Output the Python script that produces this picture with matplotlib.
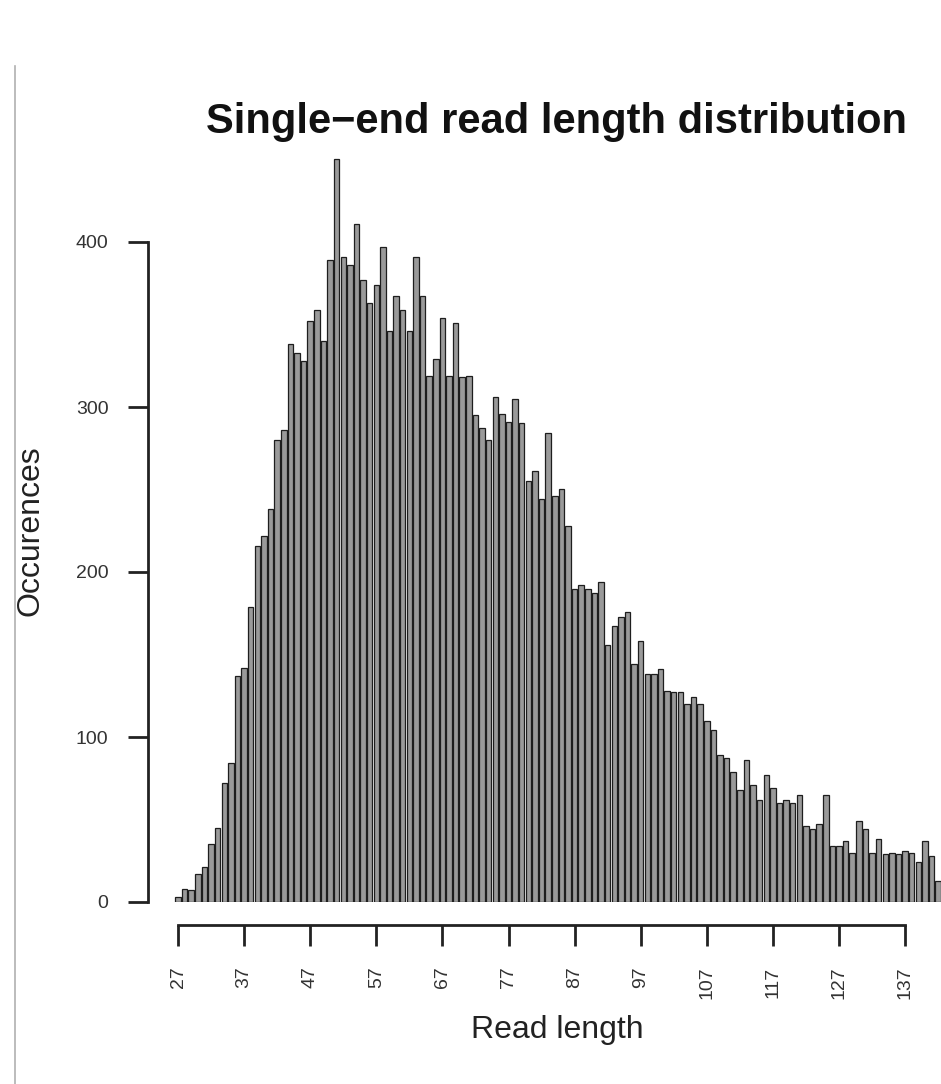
import matplotlib
matplotlib.use("Agg")
import matplotlib.pyplot as plt
from matplotlib.lines import Line2D

plt.rcParams['font.family'] = ['Liberation Sans', 'DejaVu Sans']

# Datos (longitud de lectura 27..142)
read_length = list(range(27, 143))
occurences = [
    3, 8, 7, 17, 21, 35, 45, 72, 84, 137,
    142, 179, 216, 222, 238, 280, 286, 338, 333, 328,
    352, 359, 340, 389, 450, 391, 386, 411, 377, 363,
    374, 397, 346, 367, 359, 346, 391, 367, 319, 329,
    354, 319, 351, 318, 319, 295, 287, 280, 306, 296,
    291, 305, 290, 255, 261, 244, 284, 246, 250, 228,
    190, 192, 190, 187, 194, 156, 167, 173, 176, 144,
    158, 138, 138, 141, 128, 127, 127, 120, 124, 120,
    110, 104, 89, 87, 79, 68, 86, 71, 62, 77,
    69, 60, 62, 60, 65, 46, 44, 47, 65, 34,
    34, 37, 30, 49, 44, 30, 38, 29, 30, 29,
    31, 30, 24, 37, 28, 13,
]
x_ticks = list(range(27, 138, 10))
y_ticks = [0, 100, 200, 300, 400]

W, H = 941, 1084
fig = plt.figure(figsize=(W / 100, H / 100), dpi=100)

# Ejes colocados en píxeles
ax = fig.add_axes([148 / W, (H - 902) / H, (W - 148) / W, 760 / H])
ax.set_ylim(0, 760 / 1.65)
ax.set_xlim(27 - 30 / 6.61, 27 + (W - 178) / 6.61)

ax.bar(read_length, occurences, width=0.83, color='#9a9a9a',
       edgecolor='#1e1e1e', linewidth=0.9)

for s in ['top', 'right']:
    ax.spines[s].set_visible(False)
ax.spines['left'].set_bounds(0, 400)
ax.spines['left'].set_linewidth(2)
ax.spines['left'].set_color('#222222')
ax.spines['bottom'].set_position(('outward', 16.5))
ax.spines['bottom'].set_bounds(27, 137)
ax.spines['bottom'].set_linewidth(2)
ax.spines['bottom'].set_color('#222222')

ax.set_yticks(y_ticks)
ax.set_xticks(x_ticks)
ax.tick_params(axis='y', length=14.4, width=2, pad=14, labelsize=14,
               color='#222222', labelcolor='#333333')
ax.tick_params(axis='x', length=15, width=2, pad=15, labelsize=14,
               labelrotation=90, color='#222222', labelcolor='#333333')

# Títulos
fig.text(557 / W, 1 - 133 / H, 'Single\u2212end read length distribution',
         ha='center', va='baseline', fontsize=30, fontweight='bold', color='#111111')
fig.text(557 / W, 1 - 1038 / H, 'Read length', ha='center', va='baseline',
         fontsize=23, color='#222222')
fig.text(31 / W, 1 - 531 / H, 'Occurences', ha='center', va='center',
         rotation=90, fontsize=23, color='#222222')

# Línea gris del borde izquierdo
fig.add_artist(Line2D([15 / W, 15 / W], [0, 1 - 66 / H], transform=fig.transFigure,
                      color='#b0b0b0', linewidth=1.2))

fig.savefig('out.png', dpi=100)
